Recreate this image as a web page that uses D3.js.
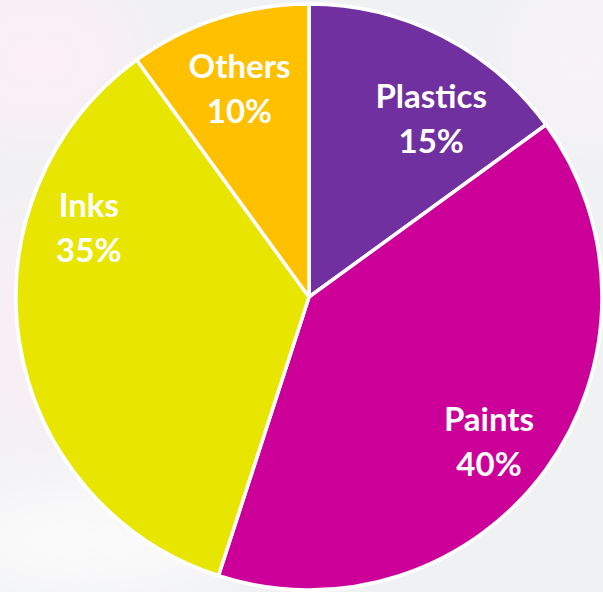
<!DOCTYPE html>
<meta charset="utf-8">
<script src="https://d3js.org/d3.v7.min.js"></script>
<style>
  body { margin: 0; background: #f0f1f3; }
</style>
<div id="chart"></div>
<script>
  // data
  var categories = ["Plastics", "Paints", "Inks", "Others"];
  var shares = [15, 40, 35, 10];
  var colors = ["#7030a0", "#cc0099", "#e8e600", "#ffc000"];

  // label nudges (pixels) relative to the label arc centroid
  var nudgeX = [20, -2, 2, 0],
      nudgeY = [11, 2, -115, -5];

  var width = 603, height = 592,
      cx = 309, cy = 297, radius = 293;

  var svg = d3.select("#chart")
    .append("svg")
      .attr("width", width)
      .attr("height", height);

  // soft background haze
  var defs = svg.append("defs");
  var blur = defs.append("filter").attr("id", "haze")
    .attr("x", "-50%").attr("y", "-50%").attr("width", "200%").attr("height", "200%");
  blur.append("feGaussianBlur").attr("stdDeviation", 30);

  var bg = svg.append("g").attr("filter", "url(#haze)");
  bg.append("ellipse").attr("cx", 40).attr("cy", 60).attr("rx", 90).attr("ry", 70).attr("fill", "#fbeef5");
  bg.append("ellipse").attr("cx", 30).attr("cy", 330).attr("rx", 60).attr("ry", 120).attr("fill", "#f8eff4");
  bg.append("ellipse").attr("cx", 90).attr("cy", 540).attr("rx", 140).attr("ry", 60).attr("fill", "#fafafb");
  bg.append("ellipse").attr("cx", 580).attr("cy", 60).attr("rx", 60).attr("ry", 80).attr("fill", "#f8f3f7");

  var g = svg.append("g")
    .attr("transform", "translate(" + cx + "," + cy + ")");

  var pie = d3.pie().sort(null).value(function(d){ return d; });
  var arcs = pie(shares);

  var arc = d3.arc().innerRadius(0).outerRadius(radius);
  var labelArc = d3.arc().innerRadius(225).outerRadius(225);

  // white outline ring
  g.append("circle")
    .attr("r", radius + 2)
    .attr("fill", "#ffffff");

  g.selectAll("path.slice")
    .data(arcs)
    .enter()
    .append("path")
      .attr("class", "slice")
      .attr("d", arc)
      .attr("fill", function(d, i){ return colors[i]; })
      .attr("stroke", "#ffffff")
      .attr("stroke-width", 3.5)
      .attr("stroke-linejoin", "round");

  var labels = g.selectAll("text.lbl")
    .data(arcs)
    .enter()
    .append("text")
      .attr("class", "lbl")
      .attr("text-anchor", "middle")
      .attr("font-family", "Lato, 'Open Sans', sans-serif")
      .attr("font-weight", "bold")
      .attr("font-size", 33)
      .attr("fill", "#ffffff")
      .attr("transform", function(d, i){
        var c = labelArc.centroid(d);
        return "translate(" + (c[0] + nudgeX[i]) + "," + (c[1] + nudgeY[i]) + ")";
      });

  labels.append("tspan")
    .attr("x", 0)
    .attr("dy", 0)
    .text(function(d, i){ return categories[i]; });
  labels.append("tspan")
    .attr("x", 0)
    .attr("dy", 45)
    .text(function(d){ return d.data + "%"; });
</script>
